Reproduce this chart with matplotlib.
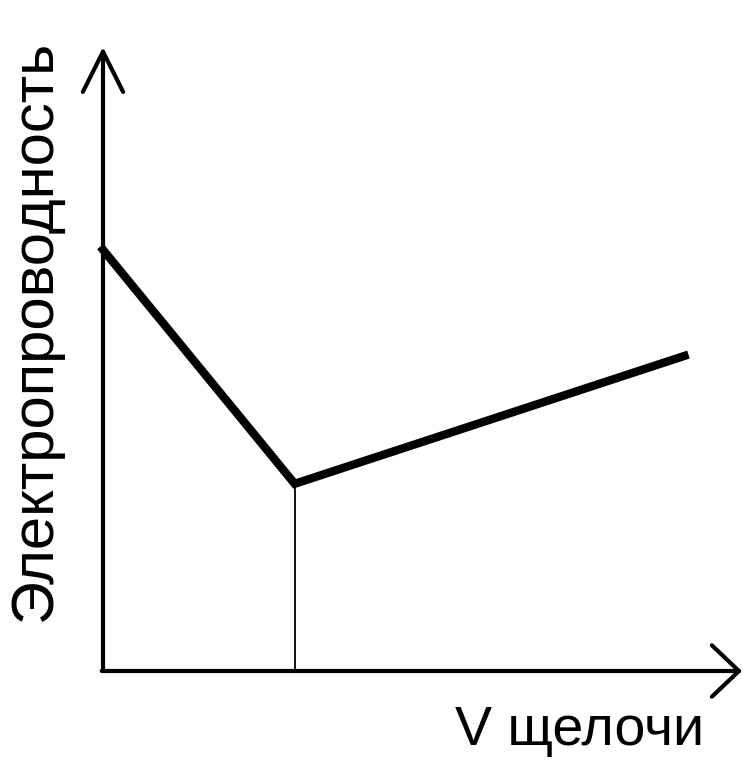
import matplotlib
matplotlib.use("Agg")
import matplotlib.pyplot as plt

# Data: conductivity vs volume of alkali (arbitrary units)
v_alkali = [0, 3.0, 9.1]
conductivity = [6.75, 3.0, 5.05]
equiv_point = 1  # index of the minimum (equivalence point)

x_label = "V щелочи"
y_label = "Электропроводность"

fig = plt.figure(figsize=(7.43, 7.6), dpi=100)
# axes placed so that origin sits where the drawn axes cross
W, H = 743, 760
left, bottom = 103 / W, (H - 671) / H
ax = fig.add_axes([left, bottom, (742 - 103) / W, (671 - 47) / H])
ax.set_xlim(0, 10)
ax.set_ylim(0, 10)
ax.axis("off")

# axes drawn as arrows
ax.annotate("", xy=(0, 1), xytext=(0, 0), xycoords="axes fraction",
            arrowprops=dict(arrowstyle="->,head_length=2.9,head_width=1.45",
                            mutation_scale=10, lw=3, color="black",
                            shrinkA=0, shrinkB=0), annotation_clip=False)
ax.annotate("", xy=(1, 0), xytext=(-0.002, 0), xycoords="axes fraction",
            arrowprops=dict(arrowstyle="->,head_length=1.95,head_width=1.85",
                            mutation_scale=10, lw=3, color="black",
                            shrinkA=0, shrinkB=0), annotation_clip=False)

# titration curve
ax.plot(v_alkali, conductivity, color="black", lw=6, solid_joinstyle="miter",
        clip_on=False)
ax.vlines(v_alkali[equiv_point], 0, conductivity[equiv_point], color="black", lw=1.3)

font = ["Liberation Sans", "DejaVu Sans"]
fig.text(35 / W, 1 - 330 / H, y_label, rotation=90, ha="center", va="center",
         fontsize=43, family=font)
fig.text(580 / W, 1 - 745 / H, x_label, ha="center", va="baseline",
         fontsize=40, family=font)

fig.savefig("out.png", dpi=100)
